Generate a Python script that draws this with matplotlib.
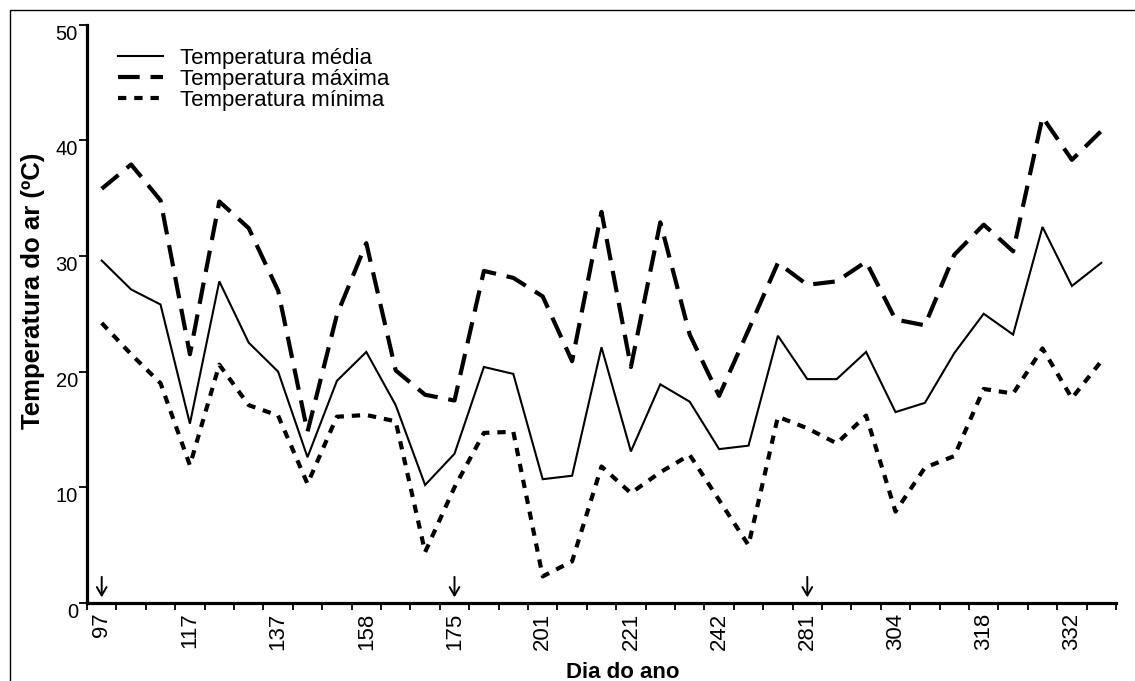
import matplotlib
matplotlib.use("Agg")
import matplotlib.pyplot as plt
from matplotlib.patches import Rectangle
import numpy as np

plt.rcParams['font.family'] = ['Liberation Sans', 'DejaVu Sans']

# ---- data ----
tick_labels = ["97", "117", "137", "158", "175", "201", "221", "242", "281", "304", "318", "332"]
temp_media = [29.6, 27.1, 25.8, 15.5, 27.8, 22.5, 20.0, 12.6, 19.2, 21.7, 17.1, 10.2, 12.9, 20.4,
              19.8, 10.7, 11.0, 22.1, 13.1, 18.9, 17.4, 13.3, 13.6, 23.1, 19.35, 19.35, 21.7, 16.5,
              17.3, 21.6, 25.0, 23.2, 32.5, 27.4, 29.4]
temp_max = [35.8, 37.9, 34.8, 21.5, 34.7, 32.4, 27.0, 14.8, 24.9, 31.1, 20.1, 18.0, 17.5, 28.7,
            28.1, 26.5, 20.9, 33.8, 20.4, 32.9, 23.2, 17.9, 23.6, 29.4, 27.5, 27.8, 29.5, 24.5,
            24.0, 30.1, 32.7, 30.4, 42.0, 38.3, 40.8]
temp_min = [24.2, 21.5, 19.0, 11.9, 20.6, 17.1, 16.2, 10.3, 16.1, 16.25, 15.7, 4.4, 10.0, 14.7,
            14.8, 2.3, 3.6, 11.8, 9.5, 11.3, 12.8, 8.9, 5.0, 16.1, 15.1, 13.8, 16.2, 7.9, 11.7,
            12.7, 18.5, 18.1, 22.0, 17.7, 20.9]
arrow_idx = [0, 12, 24]
label_step = 3

n = len(temp_media)
x = np.arange(n)

fig = plt.figure(figsize=(11.35, 6.81), dpi=100)
W, H = 1135, 681
ax = fig.add_axes([87 / W, 1 - 603 / H, (1116 - 87) / W, (603 - 24.5) / H])

ax.plot(x, temp_media, color='black', lw=1.5, solid_joinstyle='miter', label='Temperatura média')
ax.plot(x, temp_max, color='black', lw=3.0, dashes=(5.2, 2.6), label='Temperatura máxima')
ax.plot(x, temp_min, color='black', lw=3.0, dashes=(2.0, 1.9), label='Temperatura mínima')

for i in arrow_idx:
    ax.annotate('', xy=(x[i], 0.25), xytext=(x[i], 2.5),
                arrowprops=dict(arrowstyle='->,head_length=0.6,head_width=0.35', color='black', lw=1.4))

ax.set_xlim(-0.5, n - 0.5)
ax.set_ylim(0, 50)

ax.set_xticks(x[::label_step])
ax.set_xticklabels(tick_labels, rotation=90, fontsize=16)
ax.set_xticks(np.arange(-0.5, n, 1.0), minor=True)
ax.tick_params(axis='x', which='major', length=0, pad=7)
ax.tick_params(axis='x', which='minor', length=5, width=1.3, direction='out')

ax.set_yticks(np.arange(0, 51, 10))
ax.tick_params(axis='y', which='major', length=6, width=1.3, direction='out', pad=0.5, labelsize=14.5)
for lab in ax.get_yticklabels():
    lab.set_va('top')

for s in ['top', 'right']:
    ax.spines[s].set_visible(False)
for s in ['left', 'bottom']:
    ax.spines[s].set_linewidth(2.3)

leg = ax.legend(loc='upper left', bbox_to_anchor=(0.03, 0.96), frameon=False, fontsize=16,
                handlelength=2.05, handletextpad=0.75, labelspacing=0.0, borderpad=0, borderaxespad=0)

fig.text(33 / W, 1 - 291 / H, 'Temperatura do ar (ºC)', rotation=90, ha='center', va='center',
         fontsize=18.5, fontweight='bold')
fig.text(623 / W, 1 - 678 / H, 'Dia do ano', ha='center', va='baseline',
         fontsize=16, fontweight='bold')

fig.patches.append(Rectangle((9.5 / W, -0.05), 1.2, 1 - 10 / H + 0.05, transform=fig.transFigure,
                             fill=False, edgecolor='black', lw=1.0))

fig.savefig('out.png', dpi=100)
